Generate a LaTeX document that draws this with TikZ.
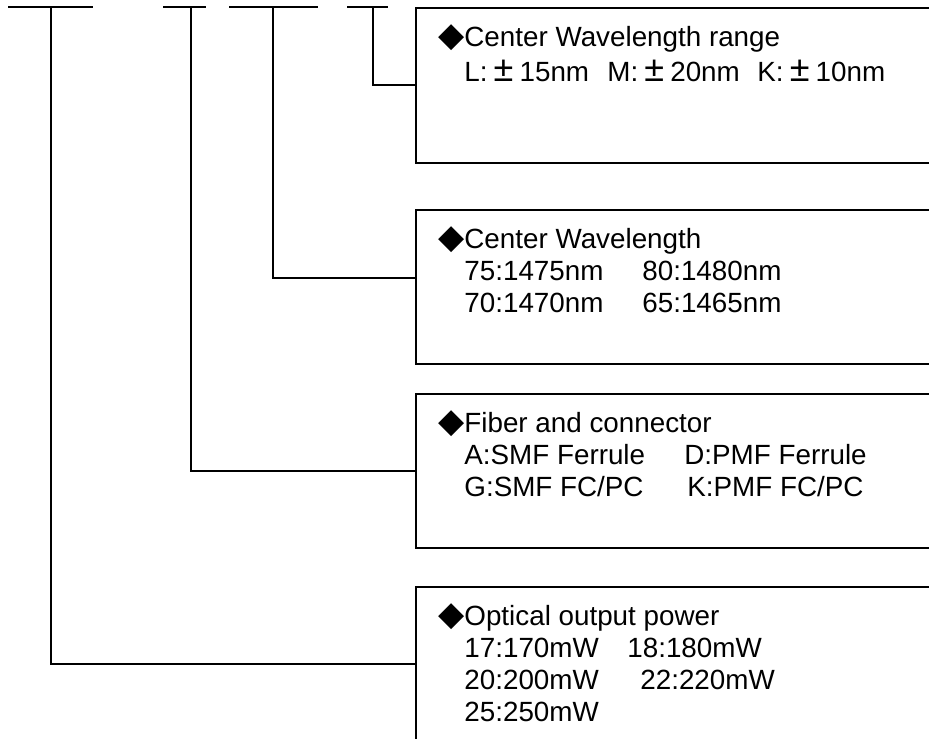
\documentclass[tikz,border=0pt]{standalone}
\usepackage{fontspec}
\setmainfont{Liberation Sans}
\newfontfamily\symfont{DejaVu Sans}
\usepackage{tikz}
\usetikzlibrary{calc}
\tikzstyle{partbox} = [draw=black, line width=0.8pt, rectangle, anchor=north west, minimum width=300pt, minimum height=77pt, inner sep=0pt]
\tikzstyle{parttext} = [anchor=north west, inner sep=0pt, align=left, font=\fontsize{13.9pt}{16pt}\selectfont]
\tikzstyle{wire} = [draw=black, line width=0.8pt]
\newcommand{\dia}{\rule{0pt}{13pt}\makebox[13pt][l]{\fontsize{17pt}{17pt}\symfont ◆}}
\newcommand{\pmw}{\makebox[16pt]{\fontsize{18pt}{18pt}\selectfont ±}}
\newcommand{\ind}{\hspace*{13pt}}

\begin{document}
\begin{tikzpicture}[x=0.5pt, y=-0.5pt]
  \useasboundingbox (0,0) rectangle (929,738);
  \clip (0,0) rectangle (929,738);

  % top bars
  \draw[wire] (8,7) -- (93,7);
  \draw[wire] (163,7) -- (206,7);
  \draw[wire] (229,7) -- (318,7);
  \draw[wire] (347,7) -- (388,7);

  \coordinate (t1) at (51,7);
  \coordinate (t2) at (191,7);
  \coordinate (t3) at (273,7);
  \coordinate (t4) at (373,7);

  % boxes
  \node[partbox, minimum height=77.5pt] (range) at (415,7) {};
  \node[partbox] (wave) at (415,209) {};
  \node[partbox] (fiber) at (415,393) {};
  \node[partbox] (power) at (415,586) {};

  \node[parttext] (rangetxt) at ([xshift=11.5pt,yshift=-6.5pt]range.north west)
    {\dia Center Wavelength range\\[1.5pt]
     \ind\makebox[71.5pt][l]{L:\pmw 15nm}\makebox[75pt][l]{M:\pmw 20nm}K:\pmw 10nm};

  \node[parttext] (wavetxt) at ([xshift=11.5pt,yshift=-6.5pt]wave.north west)
    {\dia Center Wavelength\\
     \ind\makebox[89pt][l]{75:1475nm}80:1480nm\\
     \ind\makebox[89pt][l]{70:1470nm}65:1465nm};

  \node[parttext] (fibertxt) at ([xshift=11.5pt,yshift=-6.5pt]fiber.north west)
    {\dia Fiber and connector\\
     \ind\makebox[110pt][l]{A:SMF Ferrule}D:PMF Ferrule\\
     \ind\makebox[111.5pt][l]{G:SMF FC/PC}K:PMF FC/PC};

  \node[parttext] (powertxt) at ([xshift=11.5pt,yshift=-6.5pt]power.north west)
    {\dia Optical output power\\
     \ind\makebox[81.5pt][l]{17:170mW}18:180mW\\
     \ind\makebox[88pt][l]{20:200mW}22:220mW\\
     \ind 25:250mW};

  % leaders
  \draw[wire] (t4) |- (range.west);
  \draw[wire] (t3) |- ([yshift=4.5pt]wave.west);
  \draw[wire] (t2) |- (fiber.west);
  \draw[wire] (t1) |- (power.west);
\end{tikzpicture}
\end{document}
